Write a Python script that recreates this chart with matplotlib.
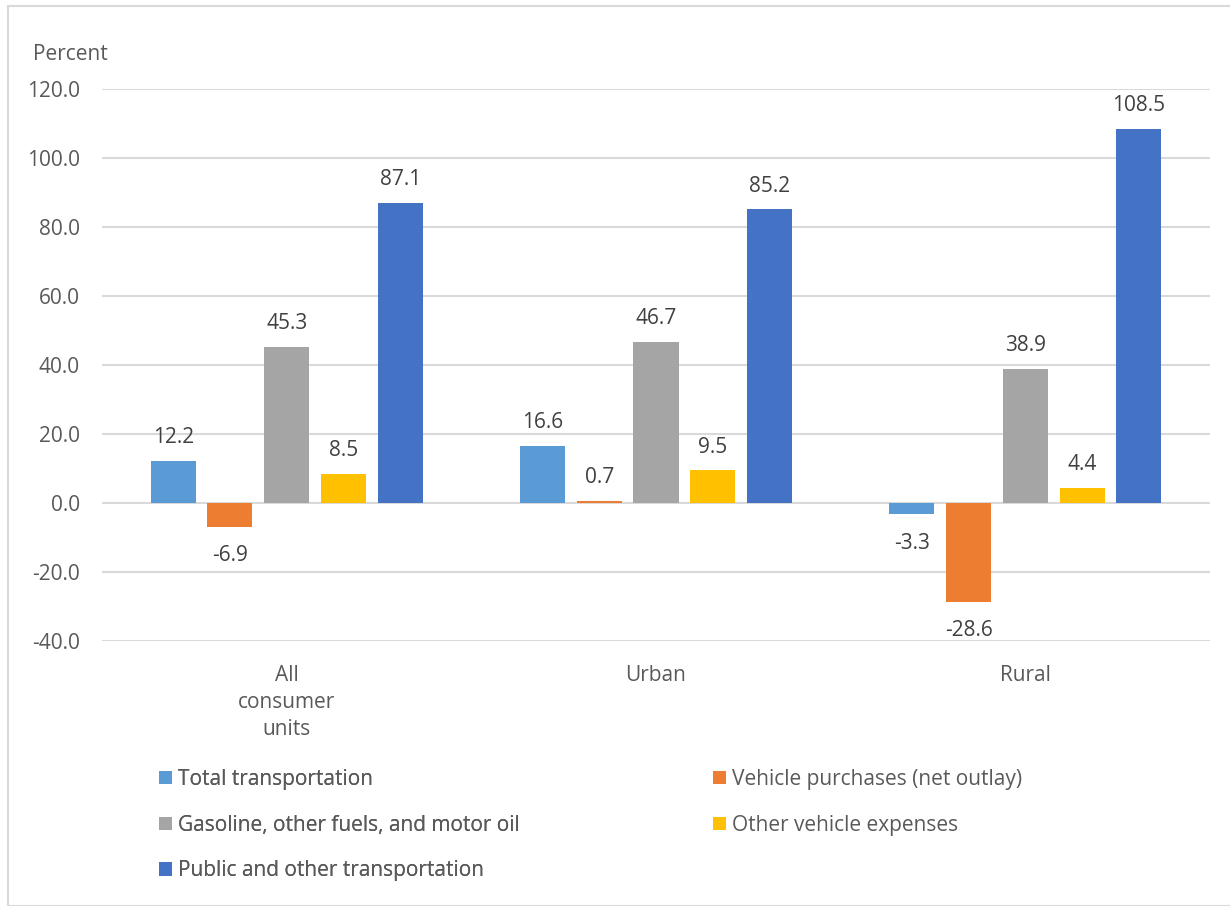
import matplotlib
matplotlib.use("Agg")
import matplotlib.pyplot as plt
from matplotlib.patches import Patch, Rectangle
import numpy as np

plt.rcParams['font.family'] = ['Open Sans', 'DejaVu Sans']

categories = ["All\nconsumer\nunits", "Urban", "Rural"]
series_names = [
    "Total transportation",
    "Vehicle purchases (net outlay)",
    "Gasoline, other fuels, and motor oil",
    "Other vehicle expenses",
    "Public and other transportation",
]
total_transportation = [12.2, 16.6, -3.3]
vehicle_purchases = [-6.9, 0.7, -28.6]
gasoline_fuels_oil = [45.3, 46.7, 38.9]
other_vehicle_expenses = [8.5, 9.5, 4.4]
public_other_transportation = [87.1, 85.2, 108.5]
y_ticks = [-40, -20, 0, 20, 40, 60, 80, 100, 120]

series_values = [total_transportation, vehicle_purchases, gasoline_fuels_oil,
                 other_vehicle_expenses, public_other_transportation]
colors = ["#5B9BD5", "#ED7D31", "#A5A5A5", "#FFC000", "#4472C4"]

W, H = 1230, 906
fig = plt.figure(figsize=(W / 100, H / 100), dpi=100)

# outer chart border
fig.add_artist(Rectangle((7.5 / W, 0), 1.2, 1 - 5.5 / H, transform=fig.transFigure,
                         fill=False, edgecolor="#D9D9D9", linewidth=1.5, clip_on=False))

ax = fig.add_axes([102 / W, 1 - 641 / H, (1210 - 102) / W, (641 - 89) / H])

x = np.arange(len(categories))
pitch = 0.1537
width = 0.122
text_color = "#595959"
label_color = "#404040"

handles = []
for i, (name, vals, c) in enumerate(zip(series_names, series_values, colors)):
    pos = x + (i - 2) * pitch
    ax.bar(pos, vals, width=width, color=c, zorder=3)
    handles.append(Patch(facecolor=c, label=name))
    for xp, v in zip(pos, vals):
        off = 16.5 if v >= 0 else -21
        ax.annotate(f"{v:.1f}", (xp, v), xytext=(0, off), textcoords="offset points",
                    ha="center", va="center", fontsize=15, color=label_color)

ax.set_xlim(-0.5, 2.5)
ax.set_ylim(-40, 120)
ax.set_yticks(y_ticks)
ax.set_yticklabels([f"{t:.1f}" for t in y_ticks])
ax.set_xticks(x)
ax.set_xticklabels(categories, linespacing=1.39)
ax.tick_params(axis="y", length=0, pad=16, labelsize=15, labelcolor=text_color)
ax.tick_params(axis="x", length=0, pad=17, labelsize=15, labelcolor=text_color)
ax.yaxis.grid(True, color="#D9D9D9", linewidth=1.5, zorder=0)
for s in ax.spines.values():
    s.set_visible(False)

fig.text(33 / W, 1 - 54 / H, "Percent", fontsize=15, color=text_color, va="center", ha="left")

leg_kw = dict(frameon=False, fontsize=15, handlelength=0.62, handleheight=0.62,
              handletextpad=0.3, labelspacing=1.18, borderpad=0, borderaxespad=0,
              labelcolor=text_color, loc="upper left")
leg1 = fig.legend(handles=[handles[0], handles[2], handles[4]],
                  bbox_to_anchor=(159 / W, 1 - 769 / H), **leg_kw)
fig.add_artist(leg1)
fig.legend(handles=[handles[1], handles[3]],
           bbox_to_anchor=(713 / W, 1 - 769 / H), **leg_kw)

fig.savefig("out.png", dpi=100, facecolor="white")
